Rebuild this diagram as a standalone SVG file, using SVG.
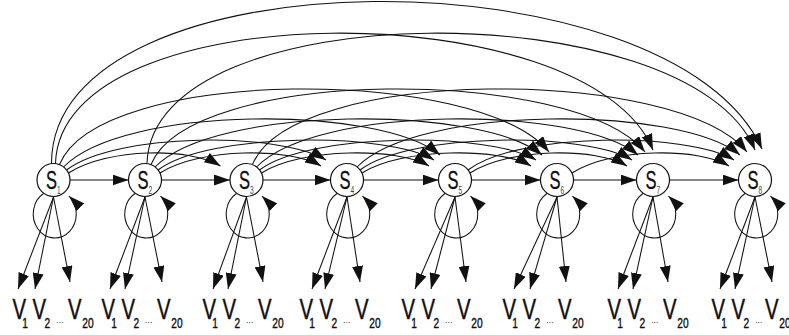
<svg xmlns="http://www.w3.org/2000/svg" width="789" height="335" viewBox="0 0 789 335">
  <style>
    .edge { fill: none; stroke: #111; stroke-width: 1.05; }
    .node circle { fill: #fff; stroke: #111; stroke-width: 1.2; }
    .sl { font-family: "Liberation Sans", Arial, sans-serif; font-size: 25px; fill: #111; stroke: #111; stroke-width: 0.3; }
    .ss { font-size: 10px; fill: #444; stroke: none; }
    .vl { font-family: "Liberation Sans", Arial, sans-serif; font-size: 21px; fill: #111; stroke: #111; stroke-width: 0.3; }
    .vs { font-size: 10.5px; }
    .dots { font-family: "Liberation Sans", Arial, sans-serif; font-size: 9px; fill: #444; }
  </style>
  <defs>
    <marker id="ah" viewBox="0 0 16 11" refX="16" refY="5.5" markerWidth="16" markerHeight="11" markerUnits="userSpaceOnUse" orient="auto">
      <path d="M0,0 L16,5.5 L0,11 z" fill="#111"/>
    </marker>
  </defs>

  <!-- transitions, self-loops and emissions -->
  <g id="connectors" class="edge" marker-end="url(#ah)">
    <!-- neighbour transitions -->
    <path d="M70,180 L128.5,180"/>
    <path d="M161.5,180 L230,180"/>
    <path d="M263,180 L330.5,180"/>
    <path d="M363.5,180 L438.5,180"/>
    <path d="M471.5,180 L540.5,180"/>
    <path d="M573.5,180 L636.5,180"/>
    <path d="M669.5,180 L738.5,180"/>

    <!-- skip by 2 -->
    <path d="M68.5,173 C108.5,147.5 190.5,147.5 220.5,166"/>
    <path d="M160,173 C200,147.5 291,147.5 321,166"/>
    <path d="M261.5,173 C301.5,147.5 399,147.5 429,166"/>
    <path d="M362,173 C402,147.5 501,147.5 531,166"/>
    <path d="M470,173 C510,147.5 597,147.5 627,166"/>
    <path d="M572,173 C612,147.5 699,147.5 729,166"/>

    <!-- skip by 3 -->
    <path d="M66.5,170 C116.5,132 281,132 326,160"/>
    <path d="M158,170 C208,132 389,132 434,160"/>
    <path d="M259.5,170 C309.5,132 491,132 536,160"/>
    <path d="M360,170 C410,132 587,132 632,160"/>
    <path d="M468,170 C518,132 689,132 734,160"/>

    <!-- skip by 4 -->
    <path d="M63.5,167 C123.5,105 380,105 440,155"/>
    <path d="M155,167 C215,105 482,105 542,155"/>
    <path d="M256.5,167 C316.5,105 578,105 638,155"/>
    <path d="M357,167 C417,105 680,105 740,155"/>

    <!-- skip by 5 -->
    <path d="M59.5,164.5 C99.5,66 479,66 549,152"/>
    <path d="M151,164.5 C191,66 575,66 645,152"/>
    <path d="M252.5,164.5 C292.5,66 677,66 747,152"/>

    <!-- skip by 6 -->
    <path d="M55.5,163.5 C60.5,-8 588,-8 653,150"/>
    <path d="M147,163.5 C152,-8 690,-8 755,150"/>

    <!-- skip by 7 -->
    <path d="M51.5,163.5 C51.5,-50 672,-50 762,149"/>

    <!-- self-loops -->
    <path d="M43.5,193.5 A21.5 24 0 1 0 69,196"/>
    <path d="M135,193.5 A21.5 24 0 1 0 160.5,196"/>
    <path d="M236.5,193.5 A21.5 24 0 1 0 262,196"/>
    <path d="M337,193.5 A21.5 24 0 1 0 362.5,196"/>
    <path d="M445,193.5 A21.5 24 0 1 0 470.5,196"/>
    <path d="M547,193.5 A21.5 24 0 1 0 572.5,196"/>
    <path d="M643,193.5 A21.5 24 0 1 0 668.5,196"/>
    <path d="M745,193.5 A21.5 24 0 1 0 770.5,196"/>

    <!-- emissions -->
    <path d="M53.5,197 L18,289"/><path d="M53.5,197 L35,289"/><path d="M53.5,197 L70,282"/>
    <path d="M145,197 L110,289"/><path d="M145,197 L125,289"/><path d="M145,197 L162,282"/>
    <path d="M246.5,197 L213,289"/><path d="M246.5,197 L228,289"/><path d="M246.5,197 L263,282"/>
    <path d="M347,197 L312,289"/><path d="M347,197 L325,289"/><path d="M347,197 L360,282"/>
    <path d="M455,197 L415,289"/><path d="M455,197 L431,289"/><path d="M455,197 L466,282"/>
    <path d="M557,197 L514,289"/><path d="M557,197 L530,289"/><path d="M557,197 L566,282"/>
    <path d="M653,197 L618,289"/><path d="M653,197 L633,289"/><path d="M653,197 L668,282"/>
    <path d="M755,197 L720,289"/><path d="M755,197 L735,289"/><path d="M755,197 L772,282"/>
  </g>

  <!-- states: condensed S with a small grey index -->
  <g id="s1" class="node"><circle cx="53.5" cy="180" r="16.5"/><text class="sl" transform="translate(46,189) scale(0.66,1)">S<tspan class="ss" dy="5">1</tspan></text></g>
  <g id="s2" class="node"><circle cx="145" cy="180" r="16.5"/><text class="sl" transform="translate(137.5,189) scale(0.66,1)">S<tspan class="ss" dy="5">2</tspan></text></g>
  <g id="s3" class="node"><circle cx="246.5" cy="180" r="16.5"/><text class="sl" transform="translate(239,189) scale(0.66,1)">S<tspan class="ss" dy="5">3</tspan></text></g>
  <g id="s4" class="node"><circle cx="347" cy="180" r="16.5"/><text class="sl" transform="translate(339.5,189) scale(0.66,1)">S<tspan class="ss" dy="5">4</tspan></text></g>
  <g id="s5" class="node"><circle cx="455" cy="180" r="16.5"/><text class="sl" transform="translate(447.5,189) scale(0.66,1)">S<tspan class="ss" dy="5">5</tspan></text></g>
  <g id="s6" class="node"><circle cx="557" cy="180" r="16.5"/><text class="sl" transform="translate(549.5,189) scale(0.66,1)">S<tspan class="ss" dy="5">6</tspan></text></g>
  <g id="s7" class="node"><circle cx="653" cy="180" r="16.5"/><text class="sl" transform="translate(645.5,189) scale(0.66,1)">S<tspan class="ss" dy="5">7</tspan></text></g>
  <g id="s8" class="node"><circle cx="755" cy="180" r="16.5"/><text class="sl" transform="translate(747.5,189) scale(0.66,1)">S<tspan class="ss" dy="5">8</tspan></text></g>

  <!-- observation symbols under each state (tall, narrow lettering) -->
  <g id="obs1">
    <text class="vl" transform="translate(12.5,319) scale(0.97,1.43)">V<tspan class="vs" dx="-4" dy="6.3">1</tspan></text>
    <text class="vl" transform="translate(32.5,319) scale(0.97,1.43)">V<tspan class="vs" dx="-1.5" dy="6.3">2</tspan></text>
    <text class="dots" x="56" y="323">...</text>
    <text class="vl" transform="translate(68,319) scale(0.97,1.43)">V<tspan class="vs" dx="0.7" dy="6.3">20</tspan></text>
  </g>
  <g id="obs2">
    <text class="vl" transform="translate(101.5,319) scale(0.97,1.43)">V<tspan class="vs" dx="-4" dy="6.3">1</tspan></text>
    <text class="vl" transform="translate(121.5,319) scale(0.97,1.43)">V<tspan class="vs" dx="-1.5" dy="6.3">2</tspan></text>
    <text class="dots" x="145" y="323">...</text>
    <text class="vl" transform="translate(157,319) scale(0.97,1.43)">V<tspan class="vs" dx="0.7" dy="6.3">20</tspan></text>
  </g>
  <g id="obs3">
    <text class="vl" transform="translate(202.5,319) scale(0.97,1.43)">V<tspan class="vs" dx="-4" dy="6.3">1</tspan></text>
    <text class="vl" transform="translate(222.5,319) scale(0.97,1.43)">V<tspan class="vs" dx="-1.5" dy="6.3">2</tspan></text>
    <text class="dots" x="246" y="323">...</text>
    <text class="vl" transform="translate(258,319) scale(0.97,1.43)">V<tspan class="vs" dx="0.7" dy="6.3">20</tspan></text>
  </g>
  <g id="obs4">
    <text class="vl" transform="translate(299.5,319) scale(0.97,1.43)">V<tspan class="vs" dx="-4" dy="6.3">1</tspan></text>
    <text class="vl" transform="translate(319.5,319) scale(0.97,1.43)">V<tspan class="vs" dx="-1.5" dy="6.3">2</tspan></text>
    <text class="dots" x="343" y="323">...</text>
    <text class="vl" transform="translate(355,319) scale(0.97,1.43)">V<tspan class="vs" dx="0.7" dy="6.3">20</tspan></text>
  </g>
  <g id="obs5">
    <text class="vl" transform="translate(401.5,319) scale(0.97,1.43)">V<tspan class="vs" dx="-4" dy="6.3">1</tspan></text>
    <text class="vl" transform="translate(421.5,319) scale(0.97,1.43)">V<tspan class="vs" dx="-1.5" dy="6.3">2</tspan></text>
    <text class="dots" x="445" y="323">...</text>
    <text class="vl" transform="translate(457,319) scale(0.97,1.43)">V<tspan class="vs" dx="0.7" dy="6.3">20</tspan></text>
  </g>
  <g id="obs6">
    <text class="vl" transform="translate(502.5,319) scale(0.97,1.43)">V<tspan class="vs" dx="-4" dy="6.3">1</tspan></text>
    <text class="vl" transform="translate(522.5,319) scale(0.97,1.43)">V<tspan class="vs" dx="-1.5" dy="6.3">2</tspan></text>
    <text class="dots" x="546" y="323">...</text>
    <text class="vl" transform="translate(558,319) scale(0.97,1.43)">V<tspan class="vs" dx="0.7" dy="6.3">20</tspan></text>
  </g>
  <g id="obs7">
    <text class="vl" transform="translate(607.5,319) scale(0.97,1.43)">V<tspan class="vs" dx="-4" dy="6.3">1</tspan></text>
    <text class="vl" transform="translate(627.5,319) scale(0.97,1.43)">V<tspan class="vs" dx="-1.5" dy="6.3">2</tspan></text>
    <text class="dots" x="651" y="323">...</text>
    <text class="vl" transform="translate(663,319) scale(0.97,1.43)">V<tspan class="vs" dx="0.7" dy="6.3">20</tspan></text>
  </g>
  <g id="obs8">
    <text class="vl" transform="translate(711.5,319) scale(0.97,1.43)">V<tspan class="vs" dx="-4" dy="6.3">1</tspan></text>
    <text class="vl" transform="translate(731.5,319) scale(0.97,1.43)">V<tspan class="vs" dx="-1.5" dy="6.3">2</tspan></text>
    <text class="dots" x="755" y="323">...</text>
    <text class="vl" transform="translate(765,319) scale(0.97,1.43)">V<tspan class="vs" dx="0.7" dy="6.3">20</tspan></text>
  </g>
</svg>
